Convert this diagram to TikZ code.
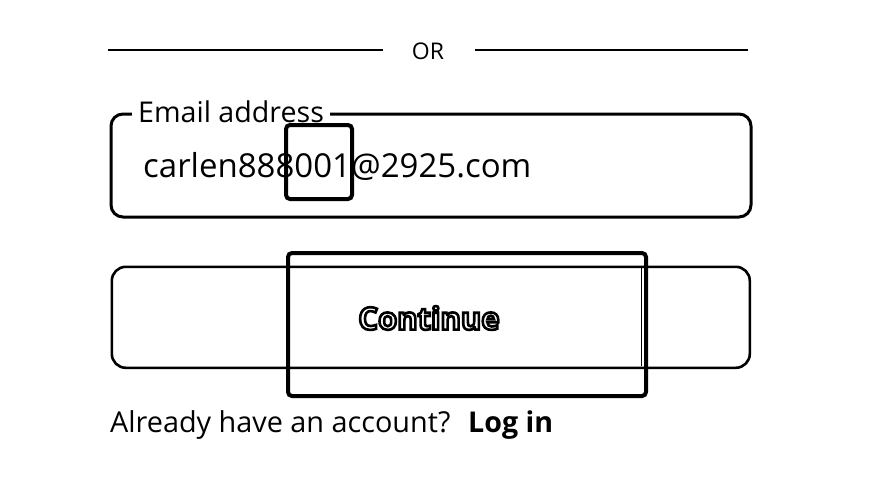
\documentclass[tikz,border=0pt]{standalone}
\usepackage{fontspec}
\setmainfont{Open Sans}
\newcommand{\outlinetext}[1]{\special{pdf:code q 2 Tr 2.6 w 0 0 0 RG 1 1 1 rg}#1\special{pdf:code Q}}
\begin{document}
\begin{tikzpicture}[x=1pt,y=-1pt,
  txt/.style={inner sep=0pt, anchor=base west},
  frame/.style={draw=black, line width=3pt, rounded corners=12pt},
  hilite/.style={draw=black, line width=4pt, rounded corners=4pt},
  rule/.style={draw=black, line width=2pt}]
\useasboundingbox (0,0) rectangle (885,498);
% OR separator
\node[inner sep=0pt, font=\fontsize{23}{26}\selectfont] (or) at (428,51) {OR};
\coordinate (l1) at (108,50); \coordinate (l2) at (383,50);
\coordinate (r1) at (475,50); \coordinate (r2) at (748,50);
\draw[rule] (l1) -- (l2);
\draw[rule] (r1) -- (r2);
% email field
\node[frame, minimum width=640pt, minimum height=103pt, anchor=north west] (email) at (109.5,112.5) {};
\node[txt, fill=white, inner xsep=6pt, inner ysep=2pt, font=\fontsize{28.6}{30}\selectfont] (elabel) at (132,122) {Email address};
\node[txt, font=\fontsize{33}{38}\selectfont] (evalue) at (143,177) {carlen888001@2925.com};
\node[hilite, minimum width=66pt, minimum height=74pt, anchor=north west] (h1) at (284,123) {};
% continue button
\node[draw=black, line width=2.6pt, rounded corners=14pt, minimum width=638pt, minimum height=101pt, anchor=north west] (btn) at (110.5,265.5) {};
\node[inner sep=0pt, font=\bfseries\fontsize{31}{34}\selectfont] (cont) at (429,318) {\outlinetext{Continue}};
\node[hilite, minimum width=358pt, minimum height=143pt, anchor=north west] (h2) at (286,251) {};
\coordinate (t1) at (289.5,266); \coordinate (b1) at (289.5,366);
\coordinate (t2) at (641.5,266); \coordinate (b2) at (641.5,366);
\draw[line width=0.6pt] (t1) -- (b1);
\draw[line width=0.6pt] (t2) -- (b2);
% bottom line
\node[txt, font=\fontsize{28.8}{30}\selectfont] (already) at (110,432) {Already have an account?};
\node[txt, font=\bfseries\fontsize{28.6}{30}\selectfont] (login) at (468,432) {Log in};
\end{tikzpicture}
\end{document}
